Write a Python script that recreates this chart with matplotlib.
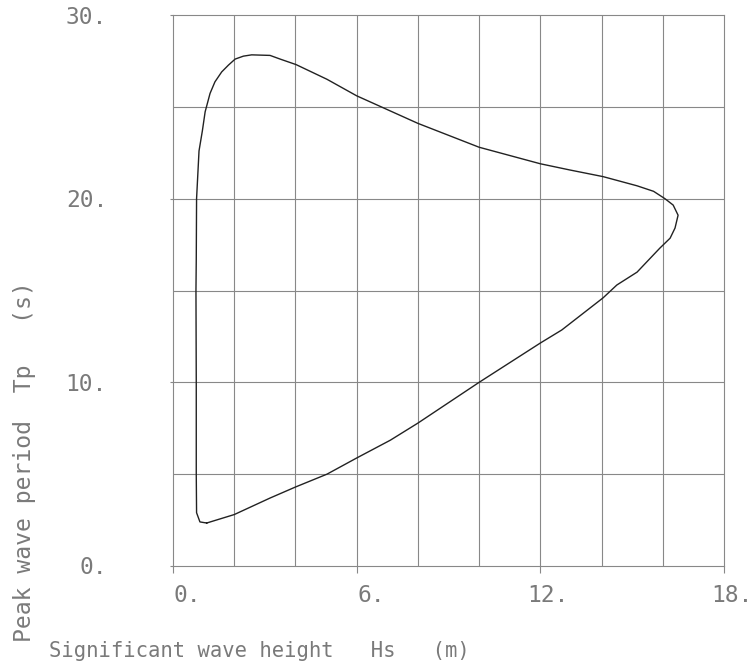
import matplotlib
matplotlib.use("Agg")
import matplotlib.pyplot as plt
from matplotlib.transforms import blended_transform_factory, offset_copy

# contour of significant wave height vs peak period
hs = [1.1, 2.0, 3.17, 4.0, 5.03, 6.0, 7.1, 8.0, 10.0, 12.0, 12.7, 14.05,
      14.5, 15.16, 15.9, 16.24, 16.4, 16.5, 16.34, 16.07, 15.7, 15.16,
      14.05, 12.97, 12.0, 10.0, 8.0, 7.0, 6.0, 5.03, 4.02, 3.5, 3.17, 2.57,
      2.3, 2.03, 1.81, 1.59, 1.37, 1.21, 1.05, 0.96, 0.85, 0.77, 0.76,
      0.75, 0.76, 0.76, 0.77, 0.88, 1.1]
tp = [2.34, 2.8, 3.7, 4.3, 5.0, 5.88, 6.85, 7.78, 10.0, 12.14, 12.85, 14.6,
      15.3, 16.0, 17.3, 17.85, 18.4, 19.1, 19.65, 20.0, 20.4, 20.7,
      21.2, 21.56, 21.9, 22.8, 24.1, 24.85, 25.6, 26.5, 27.3, 27.6, 27.8,
      27.83, 27.76, 27.6, 27.27, 26.9, 26.36, 25.73, 24.73, 23.7, 22.6,
      20.0, 16.7, 15.0, 10.0, 5.0, 2.9, 2.4, 2.34]

xticks = [0, 6, 12, 18]
xlabels = ["0.", "6.", "12.", "18."]
yticks = [0, 10, 20, 30]
ylabels = ["0.", "10.", "20.", "30."]
xgrid = [2, 4, 6, 8, 10, 12, 14, 16]
ygrid = [5, 10, 15, 20, 25]

txt = "#7a7a7a"
line = "#888888"
mono = "DejaVu Sans Mono"

fig = plt.figure(figsize=(7.52, 6.71), dpi=100)
ax = fig.add_axes([173 / 752, 105 / 671, 551 / 752, 551 / 671])
ax.set_xlim(0, 18)
ax.set_ylim(0, 30)

for x in xgrid:
    ax.axvline(x, color=line, lw=0.8, zorder=1)
for y in ygrid:
    ax.axhline(y, color=line, lw=0.8, zorder=1)

ax.plot(hs, tp, color="#222222", lw=1.0, zorder=3, solid_joinstyle="round")

for s in ax.spines.values():
    s.set_color(line)
    s.set_linewidth(0.8)

ax.set_xticks(xticks)
ax.set_yticks(yticks)
ax.set_xticklabels([])
ax.set_yticklabels([])
ax.tick_params(axis="x", direction="out", length=5, width=0.8, color=line)
ax.tick_params(axis="y", direction="out", length=2.5, width=0.8, color=line)

bx = blended_transform_factory(ax.transData, ax.transAxes)
by = blended_transform_factory(ax.transAxes, ax.transData)
for v, lab in zip(xticks, xlabels):
    ax.text(v, 0, lab, transform=offset_copy(bx, fig, x=28, y=-30, units="dots"),
            ha="right", va="center", fontsize=16.5, family=mono, color=txt)
for v, lab in zip(yticks, ylabels):
    ax.text(0, v, lab, transform=offset_copy(by, fig, x=-66, y=-2, units="dots"),
            ha="right", va="center", fontsize=16.5, family=mono, color=txt)

fig.text(49 / 752, 14 / 671, "Significant wave height   Hs   (m)",
         ha="left", va="baseline", fontsize=14.8, family=mono, color=txt)
fig.text(31 / 752, 29 / 671, "Peak wave period  Tp   (s)", rotation=90,
         rotation_mode="anchor", ha="left", va="baseline",
         fontsize=16.7, family=mono, color=txt)

fig.savefig("out.png", dpi=100)
